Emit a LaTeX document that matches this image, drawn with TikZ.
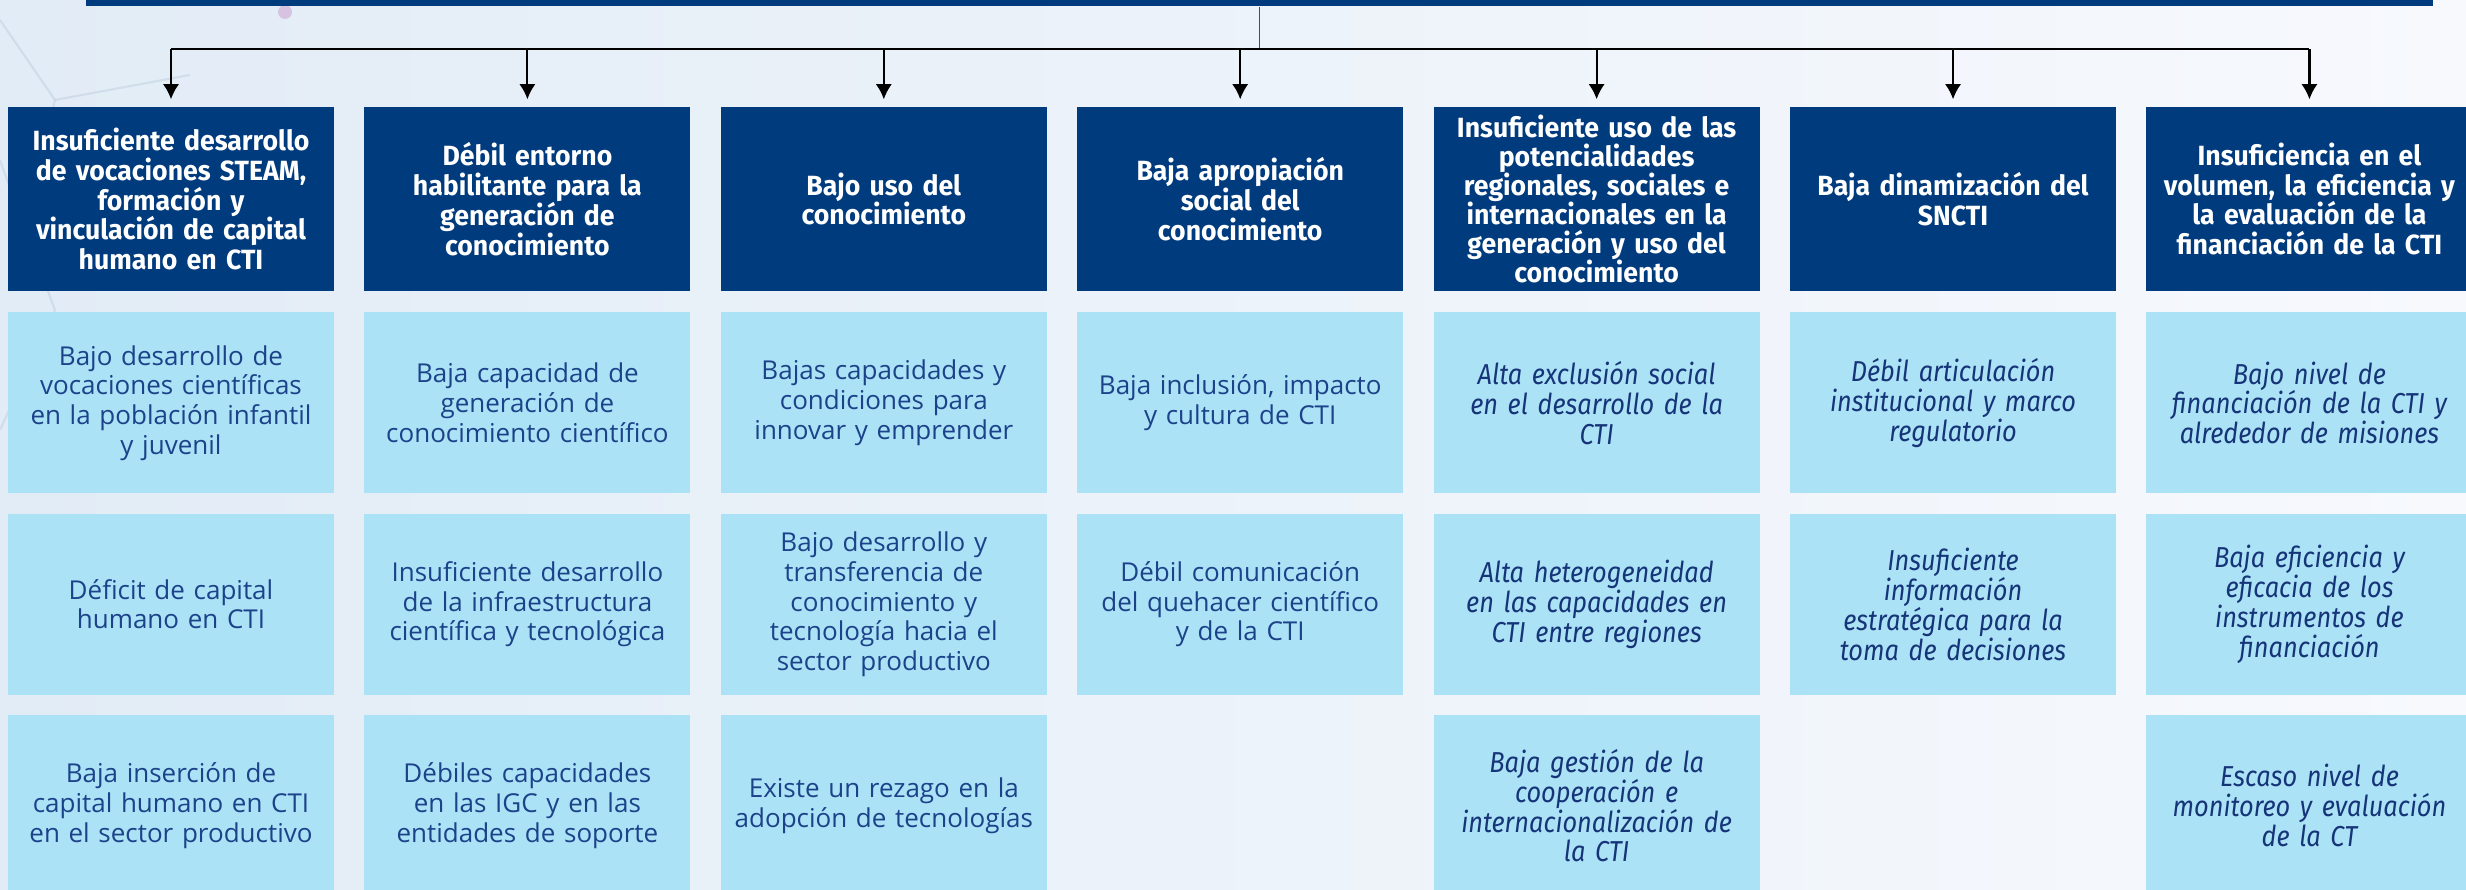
\documentclass[tikz,border=0pt]{standalone}
\usepackage{fontspec}
\usetikzlibrary{positioning}
\usetikzlibrary{arrows.meta}

\newfontfamily\headfont[FakeStretch=0.96]{Fira Sans}
\newfontfamily\subfont{Open Sans}
\newfontfamily\slantfont[FakeStretch=0.88]{Fira Sans}

\definecolor{navy}{RGB}{0,59,126}
\definecolor{sky}{RGB}{171,226,246}
\definecolor{ink}{RGB}{28,66,138}
\definecolor{inkit}{RGB}{22,52,120}
\definecolor{bgleft}{RGB}{226,236,246}
\definecolor{bgright}{RGB}{247,249,253}

\begin{document}
\begin{tikzpicture}[
    head/.style={fill=navy, text=white, minimum width=3.26cm, minimum height=1.84cm,
        inner sep=0pt, text width=3.22cm, align=center,
        font=\headfont\bfseries\fontsize{7.9pt}{8.5pt}\selectfont},
    sub/.style={fill=sky, text=ink, minimum width=3.26cm, minimum height=1.81cm,
        inner sep=0pt, text width=3.22cm, align=center,
        font=\subfont\fontsize{7.4pt}{8.45pt}\selectfont},
    subit/.style={sub, text=inkit, font=\slantfont\itshape\fontsize{8.2pt}{8.5pt}\selectfont}
]

    \useasboundingbox (0,0) rectangle (24.66,-8.90);
    \clip (0,0) rectangle (24.66,-8.90);
    \shade[left color=bgleft, right color=bgright] (0,0) rectangle (24.66,-8.90);

    % faint network in the corner
    \draw[navy!25, opacity=0.5, line width=0.6pt] (0,-0.2) -- (0.55,-1.0) -- (0.25,-2.3) -- (0.55,-3.1) -- (0,-4.3);
    \draw[navy!25, opacity=0.5, line width=0.6pt] (0.55,-1.0) -- (1.9,-0.75) (0.25,-2.3) -- (0,-1.6);
    \fill[violet!40, opacity=0.5] (2.85,-0.12) circle (0.07);

    % top bar
    \node(top)[fill=navy, minimum width=23.47cm, minimum height=0.52cm, inner sep=0pt] at (12.595,0.2) {};
    \coordinate(bus) at (12.595,-0.49);

    % causes
    \node(h1)[head] at (1.71,-1.99) {Insuficiente desarrollo\\de vocaciones STEAM,\\formación y\\vinculación de capital\\humano en CTI};
    \node(h2)[head, right=0.29cm of h1] {Débil entorno\\habilitante para la\\generación de\\conocimiento};
    \node(h3)[head, right=0.29cm of h2] {Bajo uso del\\conocimiento};
    \node(h4)[head, right=0.29cm of h3] {Baja apropiación\\social del\\conocimiento};
    \node(h5)[head, right=0.29cm of h4, font=\headfont\bfseries\fontsize{7.9pt}{8.2pt}\selectfont] {Insuficiente uso de las\\potencialidades\\regionales, sociales e\\internacionales en la\\generación y uso del\\conocimiento};
    \node(h6)[head, right=0.29cm of h5] {Baja dinamización del\\SNCTI};
    \node(h7)[head, right=0.29cm of h6] {Insuficiencia en el\\volumen, la eficiencia y\\la evaluación de la\\financiación de la CTI};

    % sub-causes
    \node(a1)[sub, below=0.2cm of h1] {Bajo desarrollo de\\vocaciones científicas\\en la población infantil\\y juvenil};
    \node(a2)[sub, below=0.19cm of a1] {Déficit de capital\\humano en CTI};
    \node(a3)[sub, below=0.19cm of a2] {Baja inserción de\\capital humano en CTI\\en el sector productivo};

    \node(b1)[sub, below=0.2cm of h2] {Baja capacidad de\\generación de\\conocimiento científico};
    \node(b2)[sub, below=0.19cm of b1] {Insuficiente desarrollo\\de la infraestructura\\científica y tecnológica};
    \node(b3)[sub, below=0.19cm of b2] {Débiles capacidades\\en las IGC y en las\\entidades de soporte};

    \node(c1)[sub, below=0.2cm of h3] {Bajas capacidades y\\condiciones para\\innovar y emprender};
    \node(c2)[sub, below=0.19cm of c1] {Bajo desarrollo y\\transferencia de\\conocimiento y\\tecnología hacia el\\sector productivo};
    \node(c3)[sub, below=0.19cm of c2] {Existe un rezago en la\\adopción de tecnologías};

    \node(d1)[sub, below=0.2cm of h4] {Baja inclusión, impacto\\y cultura de CTI};
    \node(d2)[sub, below=0.19cm of d1] {Débil comunicación\\del quehacer científico\\y de la CTI};

    \node(e1)[subit, below=0.2cm of h5] {Alta exclusión social\\en el desarrollo de la\\CTI};
    \node(e2)[subit, below=0.19cm of e1] {Alta heterogeneidad\\en las capacidades en\\CTI entre regiones};
    \node(e3)[subit, below=0.19cm of e2] {Baja gestión de la\\cooperación e\\internacionalización de\\la CTI};

    \node(f1)[subit, below=0.2cm of h6] {Débil articulación\\institucional y marco\\regulatorio};
    \node(f2)[subit, below=0.19cm of f1] {Insuficiente\\información\\estratégica para la\\toma de decisiones};

    \node(g1)[subit, below=0.2cm of h7] {Bajo nivel de\\financiación de la CTI y\\alrededor de misiones};
    \node(g2)[subit, below=0.19cm of g1] {Baja eficiencia y\\eficacia de los\\instrumentos de\\financiación};
    \node(g3)[subit, below=0.19cm of g2] {Escaso nivel de\\monitoreo y evaluación\\de la CT};

    % connectors
    \draw[black!70, line width=0.4pt] (top.south) -- (bus);
    \draw[line width=0.6pt] (bus -| h1.north) -- (bus -| h7.north);
    \foreach \i in {1,...,7}
        \draw[line width=0.6pt, -{Latex[length=4.3pt,width=4.6pt]}] (bus -| h\i.north) -- ([yshift=0.07cm]h\i.north);

\end{tikzpicture}
\end{document}
